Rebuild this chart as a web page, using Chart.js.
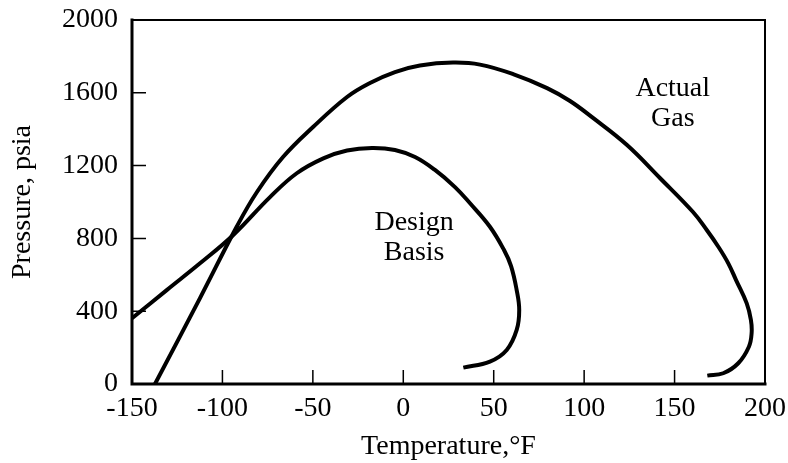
<!DOCTYPE html>
<html>
<head>
<meta charset="utf-8">
<script src="https://cdn.jsdelivr.net/npm/chart.js@4/dist/chart.umd.min.js"></script>
<style>
  html, body { margin: 0; padding: 0; background: #fff; }
  #wrap { width: 788px; height: 463px; }
</style>
</head>
<body>
<div id="wrap"><canvas id="phaseChart"></canvas></div>
<script>
// values (temperature in F, pressure in psia)
const actualTemp = [-137.3, -112.4, -91.9, -80.9, -66.5, -49.9, -31.1, -18.4, -4.6, 9.2, 27.5, 42.4, 60.7, 79.5, 92.2, 104.9, 123.7, 141.9, 160.2, 167.8, 174.2, 179.7, 184, 189.9, 192.2, 192.6, 191.1, 185.2, 176.9, 168.1];
const actualPress = [0, 472, 868, 1055, 1247, 1412, 1577, 1654, 1714, 1750, 1766, 1755, 1703, 1626, 1555, 1462, 1313, 1132, 945, 846, 754, 663, 571, 443, 352, 280, 205, 114, 59, 46];

const designTemp = [-150, -130.8, -112.4, -94, -73.7, -58.9, -44.2, -31.1, -17.3, -4.6, 6.5, 17.5, 28.6, 36.9, 47.9, 55.7, 59.6, 62.7, 64.1, 62.7, 57.2, 47.9, 33.2];
const designPress = [361, 516, 663, 819, 1027, 1158, 1240, 1283, 1297, 1286, 1247, 1176, 1082, 993, 864, 736, 648, 516, 407, 297, 187, 123, 90];

const xTicks = [-150, -100, -50, 0, 50, 100, 150, 200];
const yTicks = [0, 400, 800, 1200, 1600, 2000];

const curveNotes = [
  { lines: ['Actual', 'Gas'], x: 149, y: 1538 },
  { lines: ['Design', 'Basis'], x: 6, y: 805 }
];

const FONT = 'Liberation Serif, Times New Roman, serif';
const FONT_SIZE = 28;

function toPoints(xs, ys) {
  return xs.map((x, i) => ({ x: x, y: ys[i] }));
}

// frame, inside ticks and curve labels
const framePlugin = {
  id: 'frame',
  afterDatasetsDraw(chart) {
    const ctx = chart.ctx;
    const a = chart.chartArea;
    const xs = chart.scales.x, ys = chart.scales.y;
    ctx.save();
    ctx.strokeStyle = '#000';
    ctx.lineCap = 'square';
    ctx.lineWidth = 2;
    ctx.beginPath();
    ctx.moveTo(a.left, a.top); ctx.lineTo(a.right, a.top); ctx.lineTo(a.right, a.bottom);
    ctx.stroke();
    ctx.lineWidth = 3;
    ctx.beginPath();
    ctx.moveTo(a.left, a.top); ctx.lineTo(a.left, a.bottom); ctx.lineTo(a.right, a.bottom);
    ctx.stroke();

    ctx.lineWidth = 1.5;
    ctx.lineCap = 'butt';
    ctx.beginPath();
    xTicks.slice(1, -1).forEach(v => {
      const px = xs.getPixelForValue(v);
      ctx.moveTo(px, a.bottom); ctx.lineTo(px, a.bottom - 14);
    });
    yTicks.slice(1, -1).forEach(v => {
      const py = ys.getPixelForValue(v);
      ctx.moveTo(a.left, py); ctx.lineTo(a.left + 14, py);
    });
    ctx.stroke();

    ctx.fillStyle = '#000';
    ctx.font = FONT_SIZE + 'px ' + FONT;
    ctx.textAlign = 'center';
    ctx.textBaseline = 'middle';
    curveNotes.forEach(n => {
      const px = xs.getPixelForValue(n.x);
      const py = ys.getPixelForValue(n.y);
      n.lines.forEach((t, i) => ctx.fillText(t, px, py - (n.lines.length - 1) * 15 + i * 30));
    });
    ctx.restore();
  }
};

const ctx = document.getElementById('phaseChart').getContext('2d');
const phaseChart = new Chart(ctx, {
  type: 'scatter',
  data: {
    datasets: [{
      label: 'Actual Gas',
      data: toPoints(actualTemp, actualPress),
      showLine: true,
      borderColor: '#000',
      borderWidth: 4,
      pointRadius: 0,
      tension: 0.4,
      borderCapStyle: 'butt'
    }, {
      label: 'Design Basis',
      data: toPoints(designTemp, designPress),
      showLine: true,
      borderColor: '#000',
      borderWidth: 4,
      pointRadius: 0,
      tension: 0.4,
      borderCapStyle: 'butt'
    }]
  },
  options: {
    responsive: true,
    maintainAspectRatio: false,
    animation: false,
    layout: { padding: { top: 20, right: 23, left: 0, bottom: 0 } },
    plugins: {
      legend: { display: false },
      tooltip: { enabled: false }
    },
    scales: {
      x: {
        type: 'linear',
        min: -150,
        max: 200,
        afterBuildTicks: s => { s.ticks = xTicks.map(v => ({ value: v })); },
        afterFit: s => { s.height = 79; s.paddingLeft = 0; s.paddingRight = 0; },
        grid: { display: false, drawTicks: false },
        border: { display: false },
        ticks: { color: '#000', padding: 8, maxRotation: 0, callback: v => String(v), font: { family: FONT, size: FONT_SIZE } },
        title: {
          display: true,
          text: 'Temperature,°F',
          color: '#000',
          padding: { top: 0, bottom: 0 },
          font: { family: FONT, size: FONT_SIZE }
        }
      },
      y: {
        type: 'linear',
        min: 0,
        max: 2000,
        afterBuildTicks: s => { s.ticks = yTicks.map(v => ({ value: v })); },
        afterFit: s => { s.width = 132; s.paddingTop = 0; s.paddingBottom = 0; },
        grid: { display: false, drawTicks: false },
        border: { display: false },
        ticks: { color: '#000', padding: 14, callback: v => String(v), font: { family: FONT, size: FONT_SIZE } },
        title: {
          display: true,
          text: 'Pressure, psia',
          color: '#000',
          padding: { top: 6, bottom: 0 },
          font: { family: FONT, size: FONT_SIZE }
        }
      }
    }
  },
  plugins: [framePlugin]
});
</script>
</body>
</html>
